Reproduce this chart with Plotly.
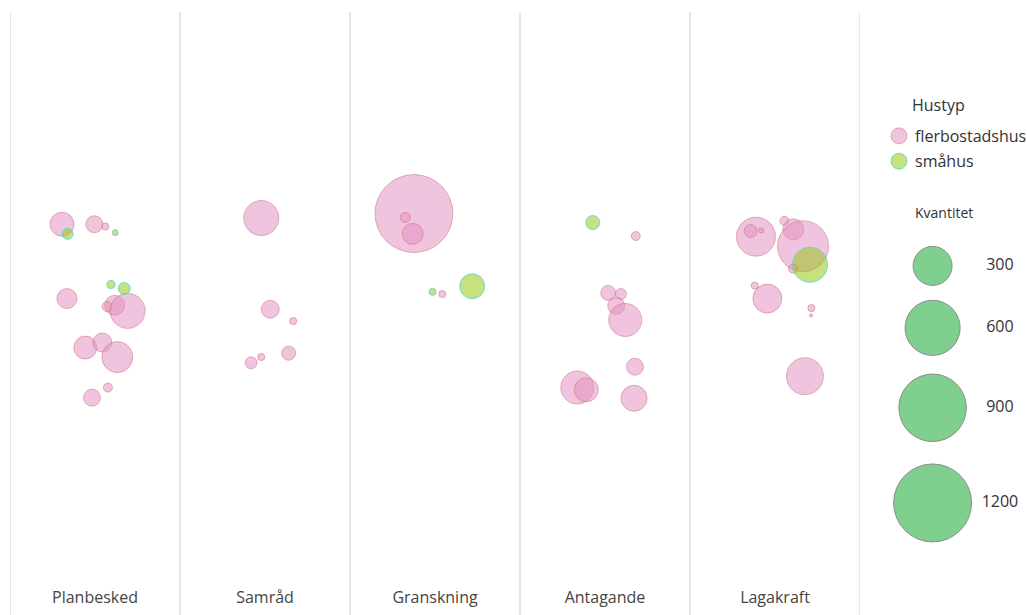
import plotly.graph_objects as go

# skeden (x-kategorier)
skeden = ["Planbesked", "Samråd", "Granskning", "Antagande", "Lagakraft"]

# flerbostadshus: skede-index, sidoförskjutning, läge (y), kvantitet
fler_skede = [0]*12 + [1]*6 + [2]*4 + [3]*9 + [4]*12
fler_offset = [-0.194, -0.004, 0.061, -0.165, 0.116, 0.071, 0.192, -0.057, 0.043, 0.131, 0.076, -0.018,
               -0.022, 0.031, 0.166, 0.139, -0.022, -0.082,
               -0.124, -0.175, -0.131, 0.043,
               0.181, 0.019, 0.094, 0.066, 0.119, 0.176, -0.163, -0.110, 0.171,
               -0.112, -0.143, -0.081, 0.055, 0.108, 0.165, 0.106, -0.119, -0.045, 0.214, 0.212, 0.176]
fler_y = [6.23, 6.23, 6.19, 4.91, 4.79, 4.77, 4.69, 4.04, 4.13, 3.87, 3.33, 3.15,
          6.34, 4.72, 4.51, 3.94, 3.87, 3.77,
          6.42, 6.35, 6.06, 4.99,
          6.02, 5.01, 4.99, 4.78, 4.53, 3.70, 3.33, 3.29, 3.14,
          6.01, 6.11, 6.12, 6.29, 6.14, 5.84, 5.44, 5.14, 4.91, 4.74, 4.61, 3.53]
fler_kvant = [114, 57, 10, 79, 79, 20, 242, 104, 71, 190, 16, 57,
              242, 64, 10, 39, 10, 28,
              1200, 20, 87, 10,
              16, 44, 24, 57, 215, 57, 215, 114, 134,
              300, 33, 5, 16, 87, 514, 16, 10, 166, 10, 2, 270]

# småhus
sma_skede = [0, 0, 0, 0, 2, 2, 3, 4]
sma_offset = [-0.161, 0.119, 0.094, 0.172, -0.014, 0.219, -0.072, 0.206]
sma_y = [6.06, 6.08, 5.16, 5.09, 5.03, 5.13, 6.26, 5.51]
sma_kvant = [24, 7, 13, 28, 10, 123, 39, 242]

# förklaringar
hustyper = ["flerbostadshus", "småhus"]
hustyp_y = [7.80, 7.35]
legend_kvant = [300, 600, 900, 1200]
legend_y = [5.49, 4.39, 2.97, 1.28]

PINK = "rgba(228,148,195,0.55)"
PINK_LINE = "rgba(200,110,110,0.5)"
GREEN = "rgba(153,199,24,0.55)"
GREEN_LINE = "rgba(80,215,215,0.8)"
SIZEREF = 0.395

fler_x = [s + o for s, o in zip(fler_skede, fler_offset)]
sma_x = [s + o for s, o in zip(sma_skede, sma_offset)]

fig = go.Figure()

fig.add_trace(go.Scatter(
    x=fler_x, y=fler_y, mode="markers", name="flerbostadshus", showlegend=False,
    marker=dict(size=fler_kvant, sizemode="area", sizeref=SIZEREF, opacity=1,
                color=PINK, line=dict(color=PINK_LINE, width=1))
))
fig.add_trace(go.Scatter(
    x=sma_x, y=sma_y, mode="markers", name="småhus", showlegend=False,
    marker=dict(size=sma_kvant, sizemode="area", sizeref=SIZEREF, opacity=1,
                color=GREEN, line=dict(color=GREEN_LINE, width=1))
))

# färgförklaring (Hustyp) ritad på egen axel
fig.add_trace(go.Scatter(
    x=[0.101]*2, y=hustyp_y, mode="markers", showlegend=False, hoverinfo="skip",
    xaxis="x2", yaxis="y2",
    marker=dict(size=16, color=[PINK, GREEN], opacity=1,
                line=dict(color=[PINK_LINE, GREEN_LINE], width=1))
))
for name, yv in zip(hustyper, hustyp_y):
    fig.add_annotation(text=name, xref="x2", yref="y2", x=0.201, y=yv,
                       xanchor="left", yanchor="middle", showarrow=False,
                       font=dict(family="Open Sans", size=16, color="#333"))
fig.add_annotation(text="Hustyp", xref="paper", yref="paper",
                   x=(938 - 10)/1017, y=(575 - 105)/563, xanchor="center", yanchor="middle",
                   showarrow=False, font=dict(family="Open Sans", size=16, color="#333"))

# storleksförklaring
fig.add_trace(go.Scatter(
    x=[0.337]*4, y=legend_y, mode="markers", showlegend=False, hoverinfo="skip",
    xaxis="x2", yaxis="y2",
    marker=dict(size=legend_kvant, sizemode="area", sizeref=SIZEREF, opacity=1,
                color="#7fcf8e", line=dict(color="#8c8c8c", width=1))
))
fig.add_trace(go.Scatter(
    x=[0.81]*4, y=legend_y, mode="text", showlegend=False, hoverinfo="skip",
    xaxis="x2", yaxis="y2",
    text=[str(v) for v in legend_kvant],
    textfont=dict(family="Open Sans", size=16, color="#333")
))
fig.add_annotation(text="Kvantitet", xref="paper", yref="paper",
                   x=(913 - 10)/1017, y=(575 - 212)/563, xanchor="left", yanchor="middle",
                   showarrow=False, font=dict(family="Open Sans", size=14, color="#333"))

for i in range(len(skeden) + 1):
    fig.add_shape(type="line", xref="x", yref="paper",
                  x0=i - 0.5, x1=i - 0.5, y0=-40/563, y1=1,
                  line=dict(color="#e6e6e6", width=2), layer="below")

fig.update_layout(
    width=1027, height=615,
    margin=dict(l=10, r=0, t=12, b=40),
    paper_bgcolor="white", plot_bgcolor="white",
    font=dict(family="Open Sans", size=16, color="#444"),
    xaxis=dict(domain=[0, 850/1017], range=[-0.5, 4.5],
               tickvals=list(range(len(skeden))), ticktext=skeden,
               showgrid=False, zeroline=False, showline=False,
               ticks="outside", ticklen=8, tickcolor="rgba(0,0,0,0)",
               tickfont=dict(size=16, color="#444")),
    yaxis=dict(range=[0, 10], visible=False),
    xaxis2=dict(domain=[0.86, 1.0], range=[0, 1], visible=False, anchor="y2"),
    yaxis2=dict(range=[0, 10], visible=False, anchor="x2"),
    showlegend=False,
)

# ta bort sidans standardmarginal så att figuren fyller fönstret
fig.write_html("out.html", config={"displayModeBar": False},
               post_script="document.body.style.margin='0';document.body.style.overflow='hidden';")
